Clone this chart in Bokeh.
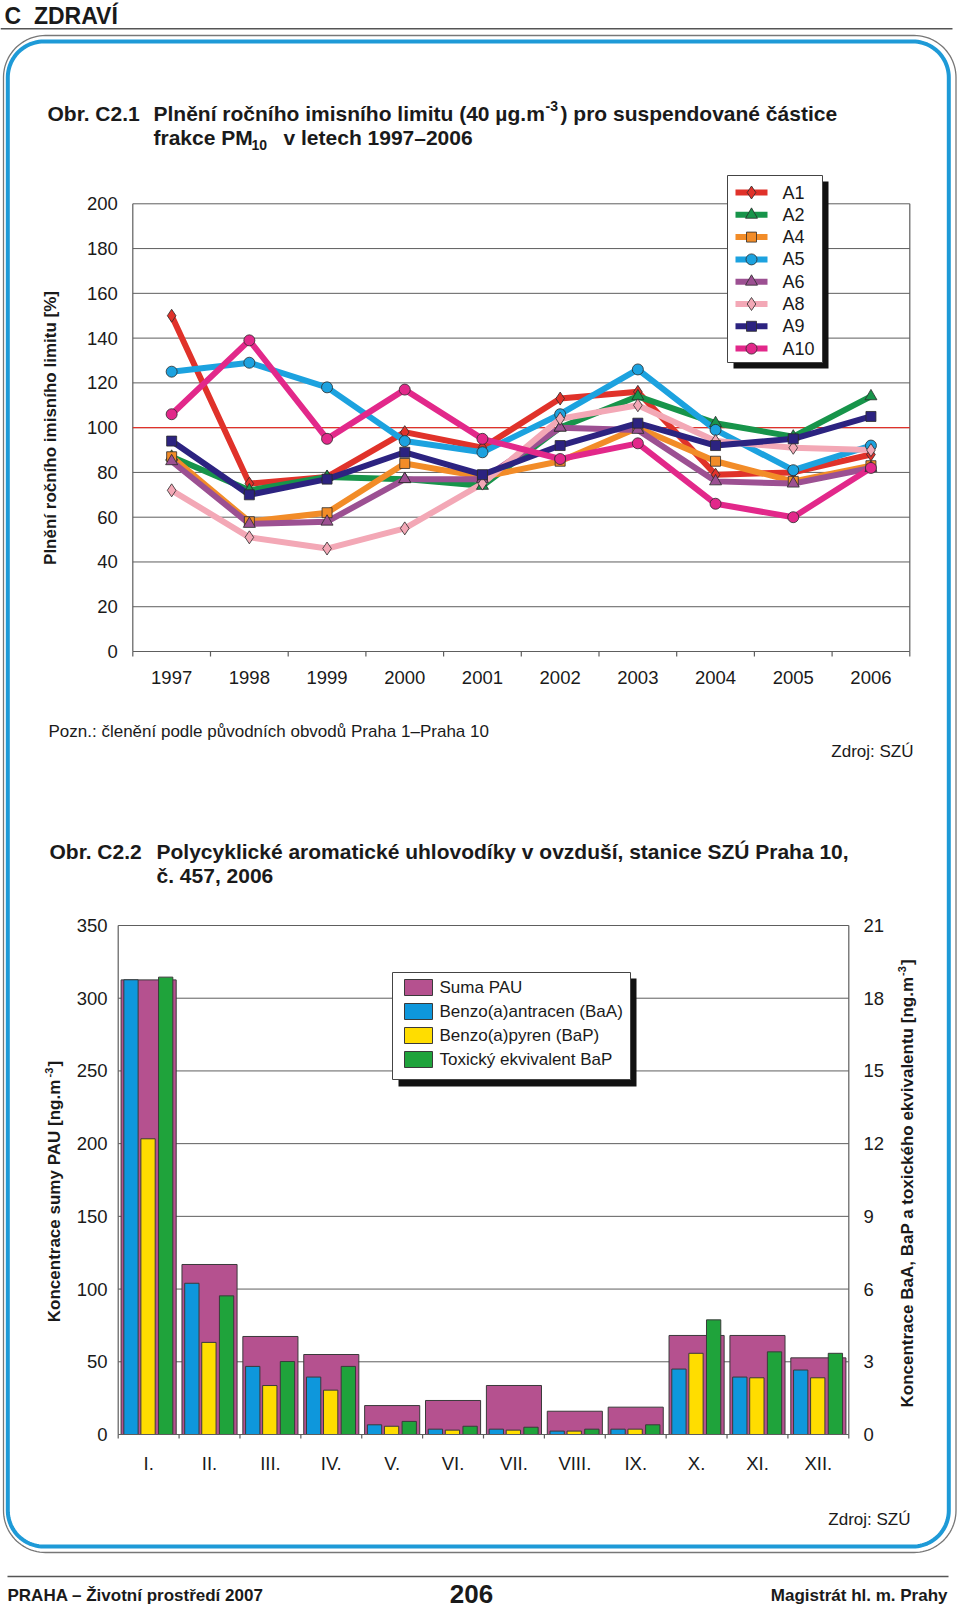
import numpy as np
from bokeh.plotting import figure
from bokeh.models import Range1d, ColumnDataSource
from bokeh.core.properties import value
from bokeh.embed import file_html
from bokeh.resources import INLINE

# ---------------- data: chart 1 ----------------
years = ["1997", "1998", "1999", "2000", "2001", "2002", "2003", "2004", "2005", "2006"]
series_names = ["A1", "A2", "A4", "A5", "A6", "A8", "A9", "A10"]
a1 = [150, 75, 78, 98, 91, 113, 116, 79, 80, 88]
a2 = [87, 72, 78, 77, 74, 100, 114, 102, 96, 114]
a4 = [87, 58, 62, 84, 78, 85, 100, 85, 76, 83]
a5 = [125, 129, 118, 94, 89, 106, 126, 99, 81, 92]
a6 = [85, 57, 58, 77, 77, 100, 99, 76, 75, 82]
a8 = [72, 51, 46, 55, 75, 104, 110, 94, 91, 90]
a9 = [94, 70, 77, 89, 79, 92, 102, 92, 95, 105]
a10 = [106, 139, 95, 117, 95, 86, 93, 66, 60, 82]
y1_ticks = [0, 20, 40, 60, 80, 100, 120, 140, 160, 180, 200]
limit_value = 100

# ---------------- data: chart 2 ----------------
months = ["I.", "II.", "III.", "IV.", "V.", "VI.", "VII.", "VIII.", "IX.", "X.", "XI.", "XII."]
suma_pau = [312.6, 116.9, 67.4, 55.0, 19.9, 23.4, 33.7, 16.0, 18.8, 68.1, 68.1, 52.7]
baa = [18.76, 6.24, 2.81, 2.37, 0.40, 0.22, 0.22, 0.14, 0.22, 2.70, 2.37, 2.66]
bap = [12.2, 3.8, 2.02, 1.83, 0.34, 0.18, 0.18, 0.14, 0.22, 3.35, 2.34, 2.34]
teq = [18.87, 5.72, 3.01, 2.81, 0.54, 0.34, 0.30, 0.22, 0.40, 4.73, 3.41, 3.35]
y2_left_ticks = [0, 50, 100, 150, 200, 250, 300, 350]
y2_right_ticks = [0, 3, 6, 9, 12, 15, 18, 21]
legend2_labels = ["Suma PAU", "Benzo(a)antracen (BaA)", "Benzo(a)pyren (BaP)", "Toxický ekvivalent BaP"]

# ---------------- styles / layout ----------------
W, H = 960, 1609
FONT = "Liberation Sans"
TXT = "#1a1a1a"
GRID = "#5e5e5e"
s_colors = ["#E0322A", "#17944A", "#F28C28", "#1CA2DF", "#9C5092", "#F3A8B6", "#2C2380", "#E2288A"]
s_markers = ["diamond", "triangle", "square", "circle", "triangle", "diamond", "square", "circle"]
s_sizes = [13, 12, 10, 11, 12, 13, 10, 11]
bar_colors = ["#B5518F", "#0E97DC", "#FFDD00", "#1FA33B"]

C1_L, C1_R, C1_T, C1_Z = 132.3, 909.3, 203.3, 651.0
C2_L, C2_R, C2_T, C2_Z = 117.7, 848.3, 925.0, 1434.0

n1 = len(years)
c1_dx = (C1_R - C1_L) / n1
c1_sy = (C1_Z - C1_T) / y1_ticks[-1]
n2 = len(months)
c2_dx = (C2_R - C2_L) / n2
c2_sl = (C2_Z - C2_T) / y2_left_ticks[-1]
c2_sr = (C2_Z - C2_T) / y2_right_ticks[-1]

p = figure(width=W, height=H, x_range=Range1d(0, W), y_range=Range1d(H, 0),
           x_axis_location=None, y_axis_location=None, toolbar_location=None,
           tools="", output_backend="svg", min_border=0, outline_line_color=None,
           background_fill_color="white", border_fill_color="white")
p.grid.visible = False

p.extra_x_ranges = {
    "c1x": Range1d(-C1_L / c1_dx, (W - C1_L) / c1_dx),
    "c2x": Range1d(-C2_L / c2_dx, (W - C2_L) / c2_dx),
}
p.extra_y_ranges = {
    "c1y": Range1d((C1_Z - H) / c1_sy, C1_Z / c1_sy),
    "c2l": Range1d((C2_Z - H) / c2_sl, C2_Z / c2_sl),
    "c2r": Range1d((C2_Z - H) / c2_sr, C2_Z / c2_sr),
}


def texts(xs, ys, ss, size, bold=False, align="left", baseline="middle", angle=0.0,
          color=TXT, xr="default", yr="default"):
    src = ColumnDataSource(dict(x=list(xs), y=list(ys), t=list(ss)))
    p.text(x="x", y="y", text="t", source=src, text_font=value(FONT),
           text_font_size=f"{size}px", text_font_style="bold" if bold else "normal",
           text_align=align, text_baseline=baseline, angle=angle, text_color=color,
           x_range_name=xr, y_range_name=yr)


def rrect(x0, y0, x1, y1, r, n=24):
    xs, ys = [], []
    for cx, cy, a0 in [(x0 + r, y0 + r, np.pi), (x1 - r, y0 + r, 1.5 * np.pi),
                       (x1 - r, y1 - r, 0.0), (x0 + r, y1 - r, 0.5 * np.pi)]:
        t = np.linspace(a0, a0 + 0.5 * np.pi, n)
        xs.extend(cx + r * np.cos(t))
        ys.extend(cy + r * np.sin(t))
    xs.append(xs[0]); ys.append(ys[0])
    return xs, ys


# ---------------- page decoration ----------------
texts([4], [15.5], ["C\u00a0\u00a0ZDRAVÍ"], 23, bold=True)
p.segment(x0=[0], y0=[28.3], x1=[952], y1=[28.3], line_color="#555555", line_width=1.5)
gx, gy = rrect(3, 35, 955.5, 1552, 42)
p.line(gx, gy, line_color="#777777", line_width=1.3)
bx, by = rrect(7.3, 41, 948.3, 1546, 36)
p.line(bx, by, line_color="#1E9AD7", line_width=4)

# titles
TS = 21
texts([47], [113], ["Obr. C2.1"], TS, bold=True)
texts([153], [113], ["Plnění ročního imisního limitu (40 µg.m"], TS, bold=True)
texts([545], [105.5], ["-3"], 14, bold=True)
texts([560], [113], [") pro suspendované částice"], TS, bold=True)
texts([153], [137], ["frakce PM"], TS, bold=True)
texts([251], [144], ["10"], 14, bold=True)
texts([283], [137], ["v letech 1997–2006"], TS, bold=True)

texts([49], [851], ["Obr. C2.2"], TS, bold=True)
texts([156], [851], ["Polycyklické aromatické uhlovodíky v ovzduší, stanice SZÚ Praha 10,"], TS, bold=True)
texts([156], [875], ["č. 457, 2006"], TS, bold=True)

texts([48], [731], ["Pozn.: členění podle původních obvodů Praha 1–Praha 10"], 17)
texts([913], [751], ["Zdroj: SZÚ"], 17, align="right")
texts([910], [1519], ["Zdroj: SZÚ"], 17, align="right")

# footer
p.segment(x0=[7], y0=[1576], x1=[948], y1=[1576], line_color="#555555", line_width=1.5)
texts([7], [1595], ["PRAHA – Životní prostředí 2007"], 17, bold=True)
texts([471], [1593], ["206"], 26, bold=True, align="center")
texts([947], [1595], ["Magistrát hl. m. Prahy"], 17, bold=True, align="right")

# ---------------- chart 1 ----------------
k1 = dict(x_range_name="c1x", y_range_name="c1y")
gt = [t for t in y1_ticks if t > 0]
p.segment(x0=[0] * len(gt), x1=[n1] * len(gt), y0=gt, y1=gt, line_color=GRID, line_width=1, **k1)
p.segment(x0=[0, n1, 0], x1=[0, n1, n1], y0=[0, 0, 0], y1=[y1_ticks[-1], y1_ticks[-1], 0],
          line_color=GRID, line_width=1.2, **k1)
bt = list(range(n1 + 1))
p.segment(x0=bt, x1=bt, y0=[0] * len(bt), y1=[-5 / c1_sy] * len(bt), line_color=GRID, line_width=1.2, **k1)
p.segment(x0=[0], x1=[n1], y0=[limit_value], y1=[limit_value], line_color="#E0322A", line_width=1.3, **k1)

xs1 = np.arange(n1) + 0.5
all_series = [a1, a2, a4, a5, a6, a8, a9, a10]
for vals, col in zip(all_series, s_colors):
    p.line(xs1, vals, line_color=col, line_width=6, line_join="round", **k1)
for vals, col, mk, sz in zip(all_series, s_colors, s_markers, s_sizes):
    p.scatter(xs1, vals, marker=mk, size=sz, fill_color=col, line_color="#2b2b2b", line_width=0.8, **k1)

texts([-15 / c1_dx] * len(y1_ticks), y1_ticks, [str(t) for t in y1_ticks], 18.5, align="right", xr="c1x", yr="c1y")
texts(xs1, [-26 / c1_sy] * n1, years, 18.5, align="center", xr="c1x", yr="c1y")
texts([50], [427.5], ["Plnění ročního imisního limitu [%]"], 17, bold=True, align="center", angle=np.pi / 2)

# legend 1
p.quad(left=[733], right=[828], top=[181], bottom=[368], fill_color="#111111", line_color=None)
p.quad(left=[727], right=[822], top=[175], bottom=[362], fill_color="white", line_color="#444444", line_width=1)
L1_Y0, L1_DY = 192.0, 22.3
for i, (nm, col, mk, sz) in enumerate(zip(series_names, s_colors, s_markers, s_sizes)):
    yy = L1_Y0 + i * L1_DY
    p.line([735, 767], [yy, yy], line_color=col, line_width=6)
    p.scatter([751], [yy], marker=mk, size=sz, fill_color=col, line_color="#2b2b2b", line_width=0.8)
    texts([782], [yy], [nm], 18)

# ---------------- chart 2 ----------------
kl = dict(x_range_name="c2x", y_range_name="c2l")
kr = dict(x_range_name="c2x", y_range_name="c2r")
gt2 = [t for t in y2_left_ticks if t > 0]
p.segment(x0=[0] * len(gt2), x1=[n2] * len(gt2), y0=gt2, y1=gt2, line_color=GRID, line_width=1, **kl)
p.segment(x0=[0, n2], x1=[0, n2], y0=[0, 0], y1=[y2_left_ticks[-1]] * 2, line_color=GRID, line_width=1.2, **kl)

xs2 = np.arange(n2) + 0.5
p.vbar(x=xs2, width=0.905, top=suma_pau, bottom=0, fill_color=bar_colors[0], line_color="#3a3a3a", line_width=1, **kl)
for vals, col, off in zip([baa, bap, teq], bar_colors[1:], [-0.29, -0.01, 0.28]):
    p.vbar(x=xs2 + off, width=0.235, top=vals, bottom=0, fill_color=col, line_color="#3a3a3a", line_width=1, **kr)

p.segment(x0=[0], x1=[n2], y0=[0], y1=[0], line_color=GRID, line_width=1.2, **kl)
bt2 = list(range(n2 + 1))
p.segment(x0=bt2, x1=bt2, y0=[0] * len(bt2), y1=[-4 / c2_sl] * len(bt2), line_color=GRID, line_width=1.2, **kl)

texts([-10.7 / c2_dx] * len(y2_left_ticks), y2_left_ticks, [str(t) for t in y2_left_ticks], 18.5, align="right", xr="c2x", yr="c2l")
texts([n2 + 14.7 / c2_dx] * len(y2_right_ticks), y2_right_ticks, [str(t) for t in y2_right_ticks], 18.5, align="left", xr="c2x", yr="c2r")
texts(xs2, [-29 / c2_sl] * n2, months, 18.5, align="center", xr="c2x", yr="c2l")

# rotated axis titles with superscripts
texts([54], [1321.7], ["Koncentrace sumy PAU [ng.m"], 17, bold=True, angle=np.pi / 2)
texts([48], [1077], ["-3"], 11, bold=True, angle=np.pi / 2)
texts([54], [1066], ["]"], 17, bold=True, angle=np.pi / 2)
texts([907], [1407], ["Koncentrace BaA, BaP a toxického ekvivalentu [ng.m"], 17, bold=True, angle=np.pi / 2)
texts([901], [975.5], ["-3"], 11, bold=True, angle=np.pi / 2)
texts([907], [964.5], ["]"], 17, bold=True, angle=np.pi / 2)

# legend 2
p.quad(left=[398], right=[636], top=[978], bottom=[1086], fill_color="#111111", line_color=None)
p.quad(left=[392], right=[630], top=[972], bottom=[1079], fill_color="white", line_color="#444444", line_width=1)
L2_Y0, L2_DY = 987.0, 24.0
for i, (lab, col) in enumerate(zip(legend2_labels, bar_colors)):
    yy = L2_Y0 + i * L2_DY
    p.quad(left=[404], right=[432], top=[yy - 8], bottom=[yy + 8], fill_color=col, line_color="#3a3a3a", line_width=1)
    texts([439], [yy], [lab], 17)

open("out.html", "w").write(file_html(p, INLINE))
